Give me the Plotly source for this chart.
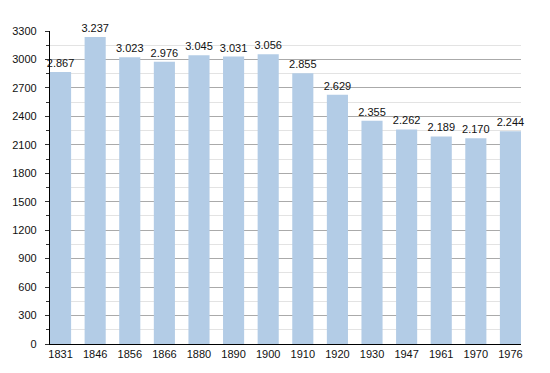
import plotly.graph_objects as go

years = ["1831", "1846", "1856", "1866", "1880", "1890", "1900", "1910", "1920", "1930", "1947", "1961", "1970", "1976"]
population = [2867, 3237, 3023, 2976, 3045, 3031, 3056, 2855, 2629, 2355, 2262, 2189, 2170, 2244]
labels = [f"{v:,}".replace(",", ".") for v in population]
y_ticks = list(range(0, 3301, 300))

fig = go.Figure(go.Bar(
    x=list(range(len(years))), y=population, text=labels, textposition="outside",
    textfont=dict(size=11, color="#111"), cliponaxis=False, constraintext="none",
    marker=dict(color="#b3cce6", line=dict(width=0)), width=0.61,
))
fig.update_layout(
    width=542, height=365, margin=dict(l=42, r=29, t=23, b=29, autoexpand=False),
    plot_bgcolor="white", paper_bgcolor="white",
    font=dict(family="Liberation Sans, Arial", size=11, color="#111"),
    showlegend=False,
)
fig.update_xaxes(range=[-0.305, 13.305], autorange=False, automargin=False, showline=True, linecolor="black",
                 linewidth=1.2, ticks="", showgrid=False, zeroline=False, tickfont=dict(size=11),
                 tickvals=list(range(len(years))), ticktext=years)
fig.update_yaxes(range=[0, 3300], autorange=False, automargin=False, tickvals=y_ticks, showline=True,
                 linecolor="black", linewidth=1.2,
                 ticks="outside", ticklen=4, tickcolor="#333", gridcolor="#aaaaaa", gridwidth=1,
                 ticklabelstandoff=6, zeroline=False,
                 minor=dict(dtick=150, ticks="outside", ticklen=3, tickcolor="#333", showgrid=True,
                            gridcolor="#e3e3e3", gridwidth=1),
                 tickfont=dict(size=11))
fig.write_html("out.html")
